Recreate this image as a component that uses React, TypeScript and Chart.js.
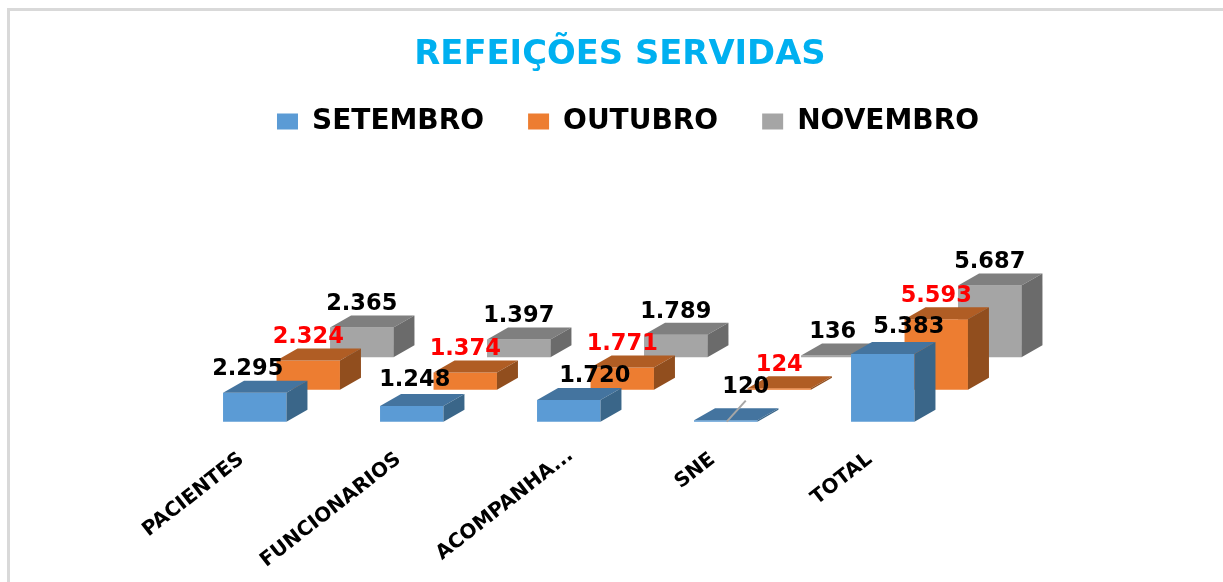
import React, { useEffect, useRef } from "react";
import { Chart, registerables } from "chart.js";

Chart.register(...registerables);

const categories = ["PACIENTES", "FUNCIONARIOS", "ACOMPANHA...", "SNE", "TOTAL"];
const setembro = [2295, 1248, 1720, 120, 5383];
const outubro = [2324, 1374, 1771, 124, 5593];
const novembro = [2365, 1397, 1789, 136, 5687];

const title = "REFEIÇÕES SERVIDAS";
const seriesNames = ["SETEMBRO", "OUTUBRO", "NOVEMBRO"];
const frontColors = ["#5B9BD5", "#ED7D31", "#A5A5A5"];
const topColors = ["#44749F", "#B05D24", "#7F7F7F"];
const sideColors = ["#3A6689", "#914E1E", "#6B6B6B"];
const labelColors = ["#000000", "#FF0000", "#000000"];

const ROW_SHIFT = [
  [0, 0],
  [53.5, -32],
  [107, -64.5],
];
const DEPTH_X = 21;
const DEPTH_Y = 12;
const LABEL_GAP = 23;
const FIRST_ROW_NUDGE = [
  [-7, -1],
  [3, -3],
  [26, -1],
  [20, -10],
  [26, -4],
];

const threeD = {
  id: "threeD",
  afterLayout(chart: any) {
    chart.legend.left += 8;
    chart.legend.right += 8;
    chart.legend.top -= 28;
    chart.legend.bottom -= 28;
  },
  beforeDraw(chart: any) {
    const { ctx, width, height } = chart;
    ctx.save();
    ctx.fillStyle = "#D9D9D9";
    ctx.fillRect(7, 8, width - 7, 3);
    ctx.fillRect(7, 8, 3, height - 8);
    ctx.restore();
    const items = chart.scales.x.getLabelItems();
    if (items[2] && !items[2].__moved) {
      items[2].options.translation[0] += 15;
      items[2].options.translation[1] -= 4;
      items[2].__moved = true;
    }
  },
  beforeDatasetDraw(chart: any, args: any) {
    const [dx, dy] = ROW_SHIFT[args.index];
    chart.ctx.save();
    chart.ctx.translate(dx, dy);
  },
  afterDatasetDraw(chart: any, args: any) {
    const { ctx } = chart;
    const i = args.index;
    args.meta.data.forEach((bar: any) => {
      const p = bar.getProps(["x", "y", "base", "width"], true);
      const l = p.x - p.width / 2;
      const r = p.x + p.width / 2;
      ctx.fillStyle = topColors[i];
      ctx.beginPath();
      ctx.moveTo(l, p.y);
      ctx.lineTo(l + DEPTH_X, p.y - DEPTH_Y);
      ctx.lineTo(r + DEPTH_X, p.y - DEPTH_Y);
      ctx.lineTo(r, p.y);
      ctx.closePath();
      ctx.fill();
      ctx.fillStyle = sideColors[i];
      ctx.beginPath();
      ctx.moveTo(r, p.y);
      ctx.lineTo(r + DEPTH_X, p.y - DEPTH_Y);
      ctx.lineTo(r + DEPTH_X, p.base - DEPTH_Y);
      ctx.lineTo(r, p.base);
      ctx.closePath();
      ctx.fill();
    });
    if (i === 0) {
      const p = args.meta.data[3].getProps(["x", "y", "base"], true);
      ctx.strokeStyle = "#A6A6A6";
      ctx.lineWidth = 2;
      ctx.beginPath();
      ctx.moveTo(p.x + 1, p.base);
      ctx.lineTo(p.x + 20, p.base - 21);
      ctx.stroke();
    }
    ctx.restore();
  },
  afterDraw(chart: any) {
    const { ctx } = chart;
    ctx.save();
    ctx.font = "bold 22.5px 'DejaVu Sans'";
    ctx.textAlign = "center";
    ctx.textBaseline = "middle";
    chart.data.datasets.forEach((ds: any, i: number) => {
      const meta = chart.getDatasetMeta(i);
      ds.data.forEach((v: number, j: number) => {
        const p = meta.data[j].getProps(["x", "y"], true);
        const n = i === 0 ? FIRST_ROW_NUDGE[j] : [0, 0];
        ctx.fillStyle = labelColors[i];
        ctx.fillText(
          v.toLocaleString("pt-BR"),
          p.x + ROW_SHIFT[i][0] + n[0],
          p.y + ROW_SHIFT[i][1] - LABEL_GAP + n[1]
        );
      });
    });
    ctx.restore();
  },
};

export default function App() {
  const ref = useRef<HTMLCanvasElement>(null);
  useEffect(() => {
    const chart = new Chart(ref.current as HTMLCanvasElement, {
      type: "bar",
      data: {
        labels: categories,
        datasets: [setembro, outubro, novembro].map((data, i) => ({
          label: seriesNames[i],
          data,
          backgroundColor: frontColors[i],
          borderWidth: 0,
          clip: false as any,
          grouped: false,
          categoryPercentage: 1,
          barPercentage: 0.404,
        })),
      },
      options: {
        responsive: false,
        animation: false,
        layout: { padding: { left: 17, right: 0, top: 0, bottom: 0 } },
        plugins: {
          title: {
            display: true,
            text: title,
            color: "#00B0F0",
            font: { family: "'DejaVu Sans'", size: 33.8, weight: "bold" },
            padding: { top: 35, bottom: 16 },
          },
          legend: {
            display: true,
            position: "top",
            labels: {
              boxWidth: 21,
              boxHeight: 16,
              padding: 44,
              color: "#000000",
              font: { family: "'DejaVu Sans'", size: 28, weight: "bold" },
            },
          },
          tooltip: { enabled: false },
        },
        scales: {
          x: {
            grid: { display: false },
            border: { display: false },
            ticks: {
              autoSkip: false,
              minRotation: 38,
              maxRotation: 38,
              padding: 18,
              labelOffset: -13,
              color: "#000000",
              font: { family: "'DejaVu Sans'", size: 20, weight: "bold" },
            },
            afterFit(s: any) {
              s.height = 160.3;
            },
          },
          y: {
            min: 0,
            max: 19700,
            position: "left",
            grid: { display: false },
            border: { display: false },
            ticks: { display: false },
            afterFit(s: any) {
              s.width = 159.25;
            },
          },
          yPad: {
            position: "right",
            grid: { display: false },
            border: { display: false },
            ticks: { display: false },
            afterFit(s: any) {
              s.width = 261.75;
            },
          },
        },
      },
      plugins: [threeD],
    } as any);
    return () => chart.destroy();
  }, []);
  return (
    <canvas
      ref={ref}
      width={1223}
      height={582}
      style={{ position: "absolute", left: 0, top: 0, filter: "blur(0.5px)" }}
    />
  );
}
